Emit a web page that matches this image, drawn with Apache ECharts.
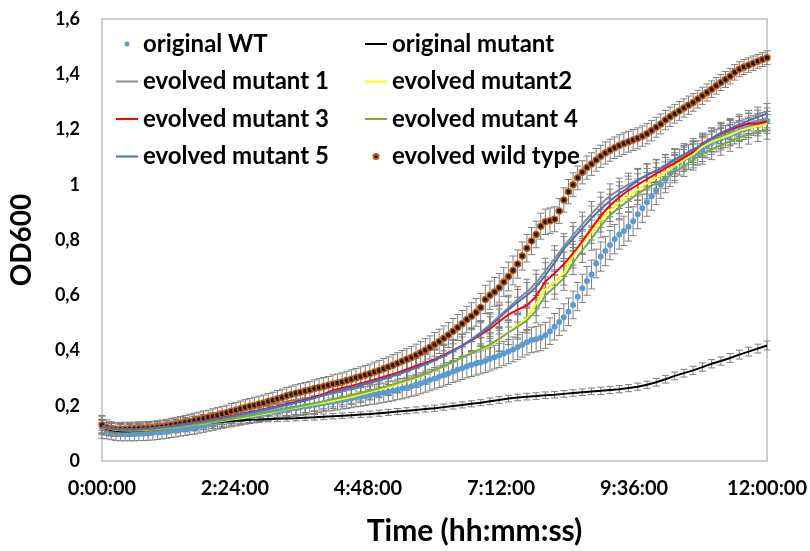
<!DOCTYPE html>
<html>
<head>
<meta charset="utf-8">
<script src="https://cdn.jsdelivr.net/npm/echarts@6/dist/echarts.min.js"></script>
<style>
html, body { margin: 0; padding: 0; background: #fff; }
#chart { width: 810px; height: 551px; }
</style>
</head>
<body>
<div id="chart"></div>
<script>
// Growth curves, OD600 over 12 h. Time in minutes.
const fineStep = 5;    // plate reads every 5 min (marker series)
const coarseStep = 10; // line series sampled every 10 min

const xTickMinutes = [0, 144, 288, 432, 576, 720];
const yTicks = [0, 0.2, 0.4, 0.6, 0.8, 1.0, 1.2, 1.4, 1.6];

// original WT (5-min reads), one row per hour
const originalWT = [
  0.122,0.110,0.103,0.099,0.098,0.098,0.098,0.098,0.099,0.099,0.100,0.101,
  0.103,0.105,0.107,0.110,0.112,0.115,0.117,0.120,0.122,0.126,0.130,0.134,
  0.137,0.141,0.144,0.147,0.151,0.154,0.157,0.160,0.163,0.166,0.169,0.172,
  0.175,0.178,0.181,0.184,0.187,0.190,0.192,0.195,0.198,0.200,0.203,0.206,
  0.209,0.212,0.214,0.217,0.220,0.223,0.226,0.229,0.232,0.235,0.238,0.241,
  0.244,0.247,0.251,0.254,0.258,0.262,0.266,0.271,0.276,0.281,0.287,0.293,
  0.299,0.305,0.311,0.317,0.324,0.330,0.336,0.342,0.348,0.353,0.357,0.363,
  0.369,0.376,0.382,0.389,0.396,0.404,0.412,0.421,0.430,0.438,0.441,0.446,
  0.455,0.470,0.486,0.503,0.520,0.540,0.565,0.595,0.625,0.652,0.675,0.715,
  0.740,0.760,0.782,0.803,0.820,0.833,0.848,0.868,0.893,0.915,0.937,0.958,
  0.978,1.000,1.020,1.042,1.062,1.082,1.094,1.100,1.106,1.115,1.127,1.140,
  1.152,1.160,1.167,1.174,1.180,1.187,1.194,1.201,1.208,1.215,1.221,1.227,
  1.232
];
const originalWTErr = [
  0.040,0.030,0.026,0.025,0.025,0.025,0.025,0.025,0.025,0.025,0.025,0.025,
  0.025,0.025,0.025,0.025,0.025,0.025,0.025,0.025,0.025,0.025,0.026,0.026,
  0.026,0.026,0.026,0.026,0.027,0.027,0.027,0.027,0.027,0.028,0.028,0.028,
  0.028,0.028,0.029,0.029,0.029,0.029,0.030,0.030,0.030,0.030,0.031,0.031,
  0.031,0.031,0.032,0.032,0.032,0.033,0.033,0.033,0.034,0.034,0.034,0.035,
  0.035,0.035,0.036,0.036,0.036,0.037,0.037,0.037,0.038,0.038,0.038,0.039,
  0.039,0.039,0.040,0.040,0.040,0.041,0.041,0.041,0.042,0.042,0.042,0.043,
  0.043,0.043,0.044,0.044,0.044,0.045,0.045,0.045,0.046,0.046,0.046,0.047,
  0.047,0.048,0.048,0.049,0.049,0.050,0.050,0.051,0.051,0.052,0.052,0.052,
  0.053,0.053,0.053,0.053,0.053,0.053,0.052,0.052,0.052,0.051,0.051,0.050,
  0.050,0.049,0.049,0.048,0.047,0.047,0.046,0.045,0.045,0.044,0.043,0.043,
  0.042,0.041,0.041,0.040,0.039,0.039,0.038,0.037,0.037,0.036,0.035,0.035,
  0.034
];

// evolved wild type (5-min reads)
const evolvedWT = [
  0.130,0.121,0.116,0.114,0.115,0.115,0.116,0.117,0.118,0.118,0.119,0.120,
  0.122,0.124,0.127,0.130,0.133,0.136,0.140,0.143,0.147,0.151,0.155,0.158,
  0.162,0.166,0.170,0.175,0.180,0.184,0.189,0.194,0.198,0.202,0.206,0.210,
  0.215,0.220,0.225,0.230,0.236,0.241,0.245,0.249,0.253,0.257,0.262,0.266,
  0.270,0.274,0.279,0.282,0.286,0.291,0.296,0.301,0.306,0.311,0.316,0.322,
  0.328,0.334,0.340,0.347,0.354,0.361,0.368,0.375,0.383,0.392,0.401,0.411,
  0.422,0.433,0.444,0.456,0.470,0.483,0.497,0.512,0.524,0.538,0.556,0.585,
  0.600,0.612,0.627,0.648,0.668,0.690,0.713,0.742,0.770,0.796,0.820,0.850,
  0.866,0.870,0.875,0.905,0.945,0.975,1.000,1.025,1.045,1.062,1.075,1.090,
  1.103,1.115,1.125,1.134,1.142,1.149,1.156,1.162,1.168,1.176,1.185,1.196,
  1.208,1.220,1.234,1.246,1.257,1.267,1.278,1.288,1.298,1.310,1.322,1.334,
  1.346,1.358,1.370,1.381,1.393,1.407,1.418,1.426,1.433,1.440,1.447,1.453,
  1.460
];
const evolvedWTErr = [
  0.035,0.028,0.026,0.025,0.025,0.025,0.024,0.024,0.024,0.024,0.024,0.024,
  0.024,0.024,0.024,0.025,0.025,0.025,0.025,0.026,0.026,0.026,0.026,0.026,
  0.027,0.027,0.027,0.027,0.028,0.028,0.028,0.028,0.028,0.029,0.029,0.029,
  0.029,0.029,0.030,0.030,0.030,0.030,0.031,0.031,0.031,0.031,0.032,0.032,
  0.032,0.032,0.033,0.033,0.033,0.034,0.034,0.034,0.035,0.035,0.035,0.036,
  0.036,0.037,0.037,0.038,0.038,0.039,0.039,0.040,0.040,0.041,0.042,0.042,
  0.043,0.044,0.045,0.045,0.046,0.047,0.048,0.048,0.049,0.050,0.050,0.051,
  0.051,0.052,0.052,0.052,0.052,0.052,0.051,0.051,0.050,0.049,0.048,0.047,
  0.046,0.046,0.045,0.045,0.044,0.044,0.043,0.043,0.042,0.042,0.041,0.041,
  0.040,0.040,0.040,0.039,0.039,0.039,0.038,0.038,0.038,0.037,0.037,0.037,
  0.036,0.036,0.035,0.035,0.034,0.034,0.033,0.033,0.032,0.032,0.031,0.031,
  0.030,0.030,0.029,0.029,0.028,0.028,0.027,0.027,0.026,0.026,0.025,0.025,
  0.025
];

// 10-min series, one row per two hours
const originalMutant = [
  0.125,0.112,0.108,0.108,0.110,0.113,0.116,0.120,0.124,0.128,0.132,0.136,
  0.139,0.142,0.145,0.147,0.149,0.150,0.152,0.153,0.154,0.155,0.157,0.158,
  0.160,0.162,0.164,0.166,0.168,0.170,0.173,0.176,0.179,0.182,0.185,0.188,
  0.191,0.195,0.199,0.203,0.207,0.211,0.216,0.221,0.226,0.230,0.233,0.235,
  0.238,0.240,0.243,0.246,0.249,0.252,0.254,0.257,0.260,0.264,0.269,0.276,
  0.285,0.296,0.308,0.318,0.328,0.340,0.352,0.362,0.373,0.385,0.396,0.407,
  0.418
];
const originalMutantErr = [
  0.014,0.011,0.010,0.010,0.010,0.010,0.010,0.010,0.010,0.010,0.010,0.010,
  0.010,0.010,0.010,0.010,0.010,0.010,0.010,0.010,0.010,0.010,0.010,0.010,
  0.010,0.010,0.010,0.010,0.010,0.011,0.011,0.011,0.011,0.011,0.011,0.011,
  0.011,0.011,0.011,0.011,0.011,0.011,0.012,0.012,0.012,0.012,0.012,0.012,
  0.012,0.012,0.012,0.012,0.012,0.012,0.013,0.013,0.013,0.013,0.013,0.013,
  0.014,0.014,0.014,0.014,0.015,0.015,0.015,0.015,0.016,0.016,0.016,0.016,
  0.016
];

const evolvedMutant1 = [
  0.126,0.118,0.115,0.115,0.116,0.118,0.121,0.125,0.129,0.134,0.139,0.144,
  0.150,0.156,0.162,0.169,0.176,0.183,0.190,0.197,0.204,0.212,0.220,0.229,
  0.239,0.249,0.257,0.265,0.274,0.283,0.292,0.302,0.313,0.325,0.337,0.350,
  0.365,0.381,0.399,0.419,0.441,0.466,0.494,0.524,0.555,0.585,0.612,0.645,
  0.688,0.733,0.778,0.818,0.857,0.895,0.930,0.960,0.982,1.000,1.018,1.036,
  1.052,1.068,1.088,1.104,1.120,1.138,1.158,1.178,1.195,1.210,1.222,1.233,
  1.242
];
const evolvedMutant2 = [
  0.124,0.115,0.111,0.110,0.111,0.113,0.116,0.119,0.123,0.127,0.131,0.135,
  0.140,0.145,0.150,0.155,0.161,0.167,0.173,0.180,0.187,0.193,0.199,0.205,
  0.211,0.217,0.224,0.232,0.241,0.250,0.259,0.268,0.278,0.289,0.300,0.313,
  0.327,0.342,0.357,0.374,0.392,0.404,0.418,0.440,0.466,0.490,0.516,0.570,
  0.622,0.648,0.680,0.742,0.790,0.830,0.870,0.908,0.935,0.958,0.982,1.005,
  1.025,1.045,1.068,1.090,1.110,1.138,1.155,1.168,1.180,1.195,1.205,1.212,
  1.220
];
const evolvedMutant3 = [
  0.125,0.117,0.114,0.114,0.116,0.118,0.121,0.125,0.129,0.134,0.139,0.145,
  0.151,0.157,0.163,0.170,0.177,0.184,0.191,0.198,0.206,0.214,0.222,0.232,
  0.242,0.256,0.264,0.272,0.281,0.290,0.300,0.310,0.320,0.332,0.344,0.355,
  0.368,0.384,0.400,0.418,0.437,0.457,0.478,0.505,0.530,0.548,0.563,0.596,
  0.650,0.680,0.712,0.752,0.795,0.842,0.888,0.925,0.955,0.980,1.000,1.020,
  1.040,1.060,1.078,1.098,1.118,1.150,1.168,1.185,1.200,1.212,1.222,1.222,
  1.230
];
const evolvedMutant4 = [
  0.124,0.116,0.112,0.111,0.112,0.114,0.117,0.120,0.124,0.128,0.132,0.137,
  0.142,0.147,0.153,0.158,0.164,0.170,0.176,0.182,0.189,0.195,0.202,0.209,
  0.216,0.224,0.231,0.238,0.246,0.254,0.263,0.272,0.282,0.292,0.303,0.315,
  0.329,0.343,0.358,0.374,0.391,0.406,0.421,0.442,0.465,0.486,0.508,0.545,
  0.600,0.630,0.662,0.718,0.762,0.805,0.850,0.890,0.918,0.942,0.968,0.988,
  1.006,1.025,1.045,1.068,1.090,1.112,1.128,1.143,1.157,1.170,1.182,1.192,
  1.200
];
const evolvedMutant5 = [
  0.125,0.117,0.114,0.114,0.115,0.117,0.120,0.124,0.128,0.133,0.138,0.143,
  0.149,0.155,0.161,0.168,0.175,0.182,0.189,0.196,0.203,0.211,0.219,0.228,
  0.238,0.250,0.258,0.266,0.275,0.284,0.293,0.303,0.314,0.326,0.338,0.350,
  0.364,0.380,0.398,0.417,0.438,0.462,0.488,0.518,0.548,0.575,0.600,0.630,
  0.672,0.718,0.768,0.805,0.842,0.880,0.912,0.942,0.968,0.990,1.015,1.035,
  1.050,1.070,1.092,1.110,1.128,1.145,1.168,1.188,1.203,1.218,1.232,1.245,
  1.258
];

const evolvedMutant1Err = [
  0.025,0.022,0.021,0.021,0.021,0.021,0.021,0.022,0.022,0.022,0.023,0.023,
  0.023,0.024,0.024,0.024,0.025,0.025,0.025,0.026,0.026,0.026,0.027,0.027,
  0.028,0.028,0.029,0.029,0.030,0.030,0.031,0.032,0.033,0.034,0.035,0.036,
  0.037,0.038,0.039,0.040,0.041,0.042,0.043,0.044,0.045,0.046,0.046,0.046,
  0.046,0.046,0.045,0.045,0.044,0.044,0.043,0.043,0.042,0.042,0.041,0.041,
  0.040,0.040,0.040,0.039,0.039,0.039,0.038,0.038,0.038,0.037,0.037,0.037,
  0.036
];
const evolvedMutant2Err = [
  0.024,0.021,0.020,0.020,0.020,0.020,0.020,0.021,0.021,0.021,0.022,0.022,
  0.022,0.023,0.023,0.023,0.024,0.024,0.024,0.025,0.025,0.025,0.026,0.026,
  0.027,0.027,0.028,0.028,0.029,0.029,0.030,0.031,0.032,0.033,0.034,0.035,
  0.036,0.037,0.038,0.039,0.040,0.041,0.042,0.043,0.044,0.044,0.044,0.044,
  0.044,0.044,0.043,0.043,0.042,0.042,0.041,0.041,0.040,0.040,0.039,0.039,
  0.038,0.038,0.038,0.037,0.037,0.037,0.036,0.036,0.036,0.035,0.035,0.035,
  0.034
];
const evolvedMutant3Err = [
  0.025,0.022,0.021,0.021,0.021,0.022,0.022,0.022,0.023,0.023,0.023,0.024,
  0.024,0.024,0.025,0.025,0.025,0.026,0.026,0.026,0.027,0.027,0.028,0.028,
  0.029,0.029,0.030,0.030,0.031,0.031,0.032,0.033,0.034,0.035,0.036,0.037,
  0.038,0.039,0.040,0.041,0.042,0.043,0.044,0.045,0.045,0.045,0.045,0.045,
  0.045,0.044,0.044,0.043,0.043,0.042,0.042,0.041,0.041,0.040,0.040,0.039,
  0.039,0.039,0.038,0.038,0.038,0.037,0.037,0.037,0.036,0.036,0.036,0.035,
  0.035
];
const evolvedMutant4Err = [
  0.024,0.021,0.020,0.020,0.020,0.020,0.021,0.021,0.021,0.022,0.022,0.022,
  0.023,0.023,0.023,0.024,0.024,0.024,0.025,0.025,0.025,0.026,0.026,0.027,
  0.027,0.028,0.028,0.029,0.029,0.030,0.031,0.032,0.033,0.034,0.035,0.036,
  0.037,0.038,0.039,0.040,0.041,0.042,0.043,0.044,0.044,0.045,0.045,0.045,
  0.045,0.044,0.044,0.043,0.043,0.042,0.042,0.041,0.041,0.040,0.040,0.039,
  0.039,0.038,0.038,0.038,0.037,0.037,0.037,0.036,0.036,0.036,0.035,0.035,
  0.035
];
const evolvedMutant5Err = [
  0.025,0.022,0.021,0.021,0.021,0.021,0.022,0.022,0.022,0.023,0.023,0.023,
  0.024,0.024,0.024,0.025,0.025,0.025,0.026,0.026,0.026,0.027,0.027,0.028,
  0.028,0.029,0.029,0.030,0.030,0.031,0.032,0.033,0.034,0.035,0.036,0.037,
  0.038,0.039,0.040,0.041,0.042,0.043,0.044,0.045,0.046,0.046,0.046,0.046,
  0.046,0.045,0.045,0.044,0.044,0.043,0.043,0.042,0.042,0.041,0.041,0.040,
  0.040,0.040,0.039,0.039,0.039,0.038,0.038,0.038,0.037,0.037,0.037,0.036,
  0.036
];

const fineTimes = originalWT.map((_, i) => i * fineStep);
const coarseTimes = originalMutant.map((_, i) => i * coarseStep);

function toPairs(times, values) {
  return values.map((v, i) => [times[i], v]);
}
function toErrorRows(times, values, errs) {
  return values.map((v, i) => [times[i], v - errs[i], v + errs[i]]);
}

const ERR_COLOR = '#7f7f7f';
function errorBars(name, rows) {
  return {
    type: 'custom',
    name: name + ' SD',
    silent: true,
    clip: false,
    data: rows,
    encode: { x: 0, y: [1, 2] },
    renderItem: function (params, api) {
      const t = api.value(0);
      const lo = api.coord([t, api.value(1)]);
      const hi = api.coord([t, api.value(2)]);
      const cap = 3.5;
      const style = { stroke: ERR_COLOR, lineWidth: 1 };
      return {
        type: 'group',
        children: [
          { type: 'line', shape: { x1: lo[0], y1: lo[1], x2: hi[0], y2: hi[1] }, style: style },
          { type: 'line', shape: { x1: lo[0] - cap, y1: lo[1], x2: lo[0] + cap, y2: lo[1] }, style: style },
          { type: 'line', shape: { x1: hi[0] - cap, y1: hi[1], x2: hi[0] + cap, y2: hi[1] }, style: style }
        ]
      };
    }
  };
}
function lineSeries(name, values, color) {
  return {
    type: 'line',
    name: name,
    data: toPairs(coarseTimes, values),
    symbol: 'none',
    lineStyle: { color: color, width: 2 },
    itemStyle: { color: color }
  };
}

const FONT = 'Lato, "Open Sans", sans-serif';

function fmtTime(min) {
  const h = Math.floor(min / 60);
  const m = Math.round(min % 60);
  return h + ':' + (m < 10 ? '0' : '') + m + ':00';
}

// legend entries for line series: plain stroke, no marker
function lineEntry(name) {
  return { name: name, itemStyle: { opacity: 0 } };
}

const chart = echarts.init(document.getElementById('chart'), null, { renderer: 'canvas' });

const legendText = { fontFamily: FONT, fontWeight: 'bold', fontSize: 24, color: '#000', lineHeight: 26 };

chart.setOption({
  animation: false,
  backgroundColor: '#ffffff',
  grid: {
    left: 97, right: 42, top: 19, bottom: 81,
    show: true, borderColor: '#bfbfbf', borderWidth: 1.5, backgroundColor: 'transparent'
  },
  legend: [
    {
      orient: 'vertical', left: 110, top: 26, itemGap: 11.5,
      itemWidth: 22, itemHeight: 5, selectedMode: false,
      textStyle: legendText,
      data: ['original WT', lineEntry('evolved mutant 1'), lineEntry('evolved mutant 3'), lineEntry('evolved mutant 5')]
    },
    {
      orient: 'vertical', left: 359, top: 26, itemGap: 11.5,
      itemWidth: 22, itemHeight: 5, selectedMode: false,
      textStyle: legendText,
      data: [lineEntry('original mutant'), lineEntry('evolved mutant2'), lineEntry('evolved mutant 4'), 'evolved wild type']
    }
  ],
  xAxis: {
    type: 'value',
    min: xTickMinutes[0],
    max: xTickMinutes[xTickMinutes.length - 1],
    interval: xTickMinutes[1] - xTickMinutes[0],
    axisLine: { show: false },
    axisTick: { show: false },
    splitLine: { show: false },
    axisLabel: {
      margin: 18,
      fontFamily: FONT, fontWeight: 'bold', fontSize: 20, color: '#000',
      formatter: fmtTime
    },
    name: 'Time (hh:mm:ss)',
    nameLocation: 'middle',
    nameGap: 55,
    nameTextStyle: {
      fontFamily: FONT, fontWeight: 'bold', fontSize: 30, color: '#000',
      padding: [0, 0, 0, 80]
    }
  },
  yAxis: {
    type: 'value',
    min: yTicks[0],
    max: yTicks[yTicks.length - 1],
    interval: yTicks[1] - yTicks[0],
    axisLine: { show: false },
    axisTick: { show: false },
    splitLine: { show: false },
    axisLabel: {
      margin: 22,
      fontFamily: FONT, fontWeight: 'bold', fontSize: 18, color: '#000',
      formatter: function (v) { return String(+v.toFixed(1)).replace('.', ','); }
    },
    name: 'OD600',
    nameLocation: 'middle',
    nameGap: 66,
    nameTextStyle: { fontFamily: FONT, fontWeight: 'bold', fontSize: 28, color: '#000' }
  },
  series: [
    errorBars('original WT', toErrorRows(fineTimes, originalWT, originalWTErr)),
    {
      type: 'scatter', name: 'original WT',
      data: toPairs(fineTimes, originalWT),
      symbol: 'circle', symbolSize: 6,
      itemStyle: { color: '#5B9BD5', opacity: 1 }
    },
    errorBars('original mutant', toErrorRows(coarseTimes, originalMutant, originalMutantErr)),
    lineSeries('original mutant', originalMutant, '#000000'),
    errorBars('evolved mutant 1', toErrorRows(coarseTimes, evolvedMutant1, evolvedMutant1Err)),
    lineSeries('evolved mutant 1', evolvedMutant1, '#8c8c8c'),
    errorBars('evolved mutant2', toErrorRows(coarseTimes, evolvedMutant2, evolvedMutant2Err)),
    lineSeries('evolved mutant2', evolvedMutant2, '#FFFF00'),
    errorBars('evolved mutant 3', toErrorRows(coarseTimes, evolvedMutant3, evolvedMutant3Err)),
    lineSeries('evolved mutant 3', evolvedMutant3, '#FF0000'),
    errorBars('evolved mutant 4', toErrorRows(coarseTimes, evolvedMutant4, evolvedMutant4Err)),
    lineSeries('evolved mutant 4', evolvedMutant4, '#70AD47'),
    errorBars('evolved mutant 5', toErrorRows(coarseTimes, evolvedMutant5, evolvedMutant5Err)),
    lineSeries('evolved mutant 5', evolvedMutant5, '#4472C4'),
    errorBars('evolved wild type', toErrorRows(fineTimes, evolvedWT, evolvedWTErr)),
    {
      type: 'scatter', name: 'evolved wild type',
      data: toPairs(fineTimes, evolvedWT),
      symbol: 'circle', symbolSize: 6,
      itemStyle: { color: '#1a1a1a', borderColor: '#C55A11', borderWidth: 1.5, opacity: 1 }
    }
  ]
});
</script>
</body>
</html>
